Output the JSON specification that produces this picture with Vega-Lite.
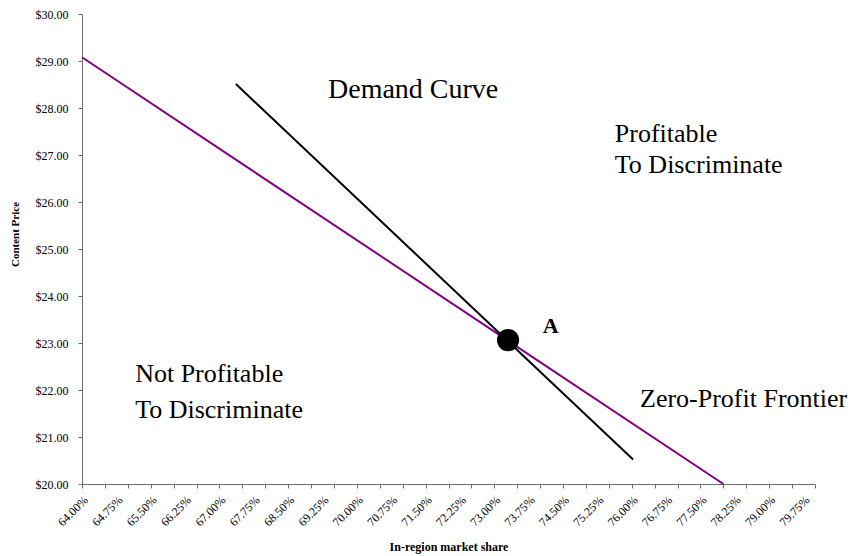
{
  "$schema": "https://vega.github.io/schema/vega-lite/v6.json",
  "width": 733,
  "height": 470,
  "autosize": {"type": "none"},
  "padding": {"left": 82, "top": 14, "right": 37, "bottom": 72},
  "background": "white",
  "config": {
    "view": {"stroke": null},
    "font": "Liberation Serif",
    "axis": {"labelFont": "Liberation Serif", "titleFont": "Liberation Serif", "labelColor": "black", "titleColor": "black", "domainColor": "#6e6e6e", "tickColor": "#6e6e6e", "grid": false}
  },
  "datasets": {
    "curves": [
      {"series": "Zero-Profit Frontier", "share": 64.0, "price": 29.08},
      {"series": "Zero-Profit Frontier", "share": 78.0, "price": 20.0},
      {"series": "Demand Curve", "share": 67.36, "price": 28.51},
      {"series": "Demand Curve", "share": 76.03, "price": 20.52}
    ],
    "pointA": [{"share": 73.3, "price": 23.06}],
    "bigLabel": [{"label": "Demand Curve", "share": 69.37, "price": 28.21}],
    "regionLabels": [
      {"label": "Profitable", "share": 75.63, "price": 27.28},
      {"label": "To Discriminate", "share": 75.63, "price": 26.62},
      {"label": "Not Profitable", "share": 65.16, "price": 22.18},
      {"label": "To Discriminate", "share": 65.16, "price": 21.40},
      {"label": "Zero-Profit Frontier", "share": 76.18, "price": 21.64}
    ],
    "letterLabel": [{"label": "A", "share": 74.06, "price": 23.21}]
  },
  "encoding": {
    "x": {
      "field": "share", "type": "quantitative",
      "scale": {"domain": [64, 80], "nice": false, "zero": false},
      "axis": {
        "title": "In-region market share",
        "titleFontSize": 12, "titleFontWeight": "bold",
        "titleBaseline": "alphabetic", "titleY": 66,
        "values": [64,64.25,64.5,64.75,65,65.25,65.5,65.75,66,66.25,66.5,66.75,67,67.25,67.5,67.75,68,68.25,68.5,68.75,69,69.25,69.5,69.75,70,70.25,70.5,70.75,71,71.25,71.5,71.75,72,72.25,72.5,72.75,73,73.25,73.5,73.75,74,74.25,74.5,74.75,75,75.25,75.5,75.75,76,76.25,76.5,76.75,77,77.25,77.5,77.75,78,78.25,78.5,78.75,79,79.25,79.5,79.75,80],
        "tickOpacity": {"expr": "round(datum.value*100) % 50 == 0 ? 1 : 0"},
        "labelExpr": "(round(datum.value*100) - 6400) % 75 == 0 && datum.value < 80 ? format(datum.value, '.2f') + '%' : ''",
        "labelAngle": -45, "labelFontSize": 12, "labelOverlap": false, "labelBound": false, "labelFlush": false,
        "tickSize": 4, "labelPadding": 6
      }
    },
    "y": {
      "field": "price", "type": "quantitative",
      "scale": {"domain": [20, 30], "nice": false, "zero": false},
      "axis": {
        "title": "Content Price",
        "titleFontSize": 11, "titleFontWeight": "bold",
        "titleX": -67, "titleY": 220, "titleAlign": "center", "titleBaseline": "middle",
        "values": [20,21,22,23,24,25,26,27,28,29,30],
        "labelExpr": "'$' + format(datum.value, '.2f')",
        "labelFontSize": 12, "tickSize": 4, "labelPadding": 10
      }
    }
  },
  "layer": [
    {
      "data": {"name": "curves"},
      "mark": {"type": "line", "strokeWidth": 2},
      "encoding": {
        "detail": {"field": "series"},
        "color": {"field": "series", "type": "nominal", "scale": {"domain": ["Zero-Profit Frontier", "Demand Curve"], "range": ["#800080", "#000000"]}, "legend": null}
      }
    },
    {
      "data": {"name": "pointA"},
      "mark": {"type": "point", "shape": "circle", "filled": true, "color": "black", "opacity": 1, "size": 490}
    },
    {
      "data": {"name": "bigLabel"},
      "mark": {"type": "text", "align": "left", "baseline": "alphabetic", "fontSize": 28, "font": "Liberation Serif", "color": "black"},
      "encoding": {"text": {"field": "label"}}
    },
    {
      "data": {"name": "regionLabels"},
      "mark": {"type": "text", "align": "left", "baseline": "alphabetic", "fontSize": 26, "font": "Liberation Serif", "color": "black"},
      "encoding": {"text": {"field": "label"}}
    },
    {
      "data": {"name": "letterLabel"},
      "mark": {"type": "text", "align": "left", "baseline": "alphabetic", "fontSize": 22, "fontWeight": "bold", "font": "Liberation Serif", "color": "black"},
      "encoding": {"text": {"field": "label"}}
    }
  ]
}
